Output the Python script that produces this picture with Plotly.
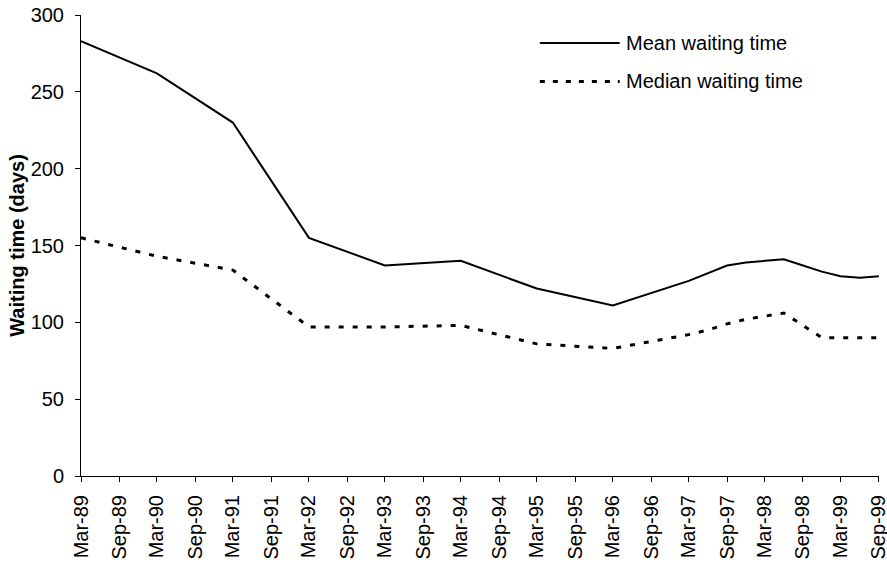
import pandas as pd
import plotly.graph_objects as go

# waiting time series (days)
mean_dates = ["Mar-89", "Mar-90", "Mar-91", "Mar-92", "Mar-93", "Mar-94", "Mar-95",
              "Mar-96", "Mar-97", "Jun-97", "Sep-97", "Dec-97", "Mar-98", "Jun-98",
              "Sep-98", "Dec-98", "Mar-99", "Jun-99", "Sep-99"]
mean_wait = [283, 262, 230, 155, 137, 140, 122, 111, 127, 132, 137, 139, 140, 141,
             137, 133, 130, 129, 130]

median_dates = mean_dates
median_wait = [155, 143, 134, 97, 97, 98, 86, 83, 92, 95, 99, 102, 104, 106,
               98, 90, 90, 90, 90]

series_names = ["Mean waiting time", "Median waiting time"]
y_title = "Waiting time (days)"

FONT = "Liberation Sans, Arial, sans-serif"
FS = 20

def to_dates(labels):
    return pd.to_datetime(labels, format="%b-%y")

fig = go.Figure()
fig.add_trace(go.Scatter(x=to_dates(mean_dates), y=mean_wait, mode="lines",
                         name=series_names[0], line=dict(color="black", width=2)))
fig.add_trace(go.Scatter(x=to_dates(median_dates), y=median_wait, mode="lines",
                         name=series_names[1],
                         line=dict(color="black", width=3, dash="5px,9px")))

# hand-drawn legend so the sample lines are as long as in the original
leg_y = [0.939, 0.856]
leg_dash = ["solid", "5px,8px"]
leg_w = [2, 3]
for i, nm in enumerate(series_names):
    fig.add_shape(type="line", xref="paper", yref="paper",
                  x0=0.575, x1=0.675, y0=leg_y[i], y1=leg_y[i],
                  line=dict(color="black", width=leg_w[i], dash=leg_dash[i]))
    fig.add_annotation(xref="paper", yref="paper", x=0.681, y=leg_y[i],
                       text=nm, showarrow=False, xanchor="left", yanchor="middle",
                       font=dict(family=FONT, size=FS, color="black"))

start = to_dates(["Mar-89"])[0]
end = to_dates(["Sep-99"])[0]

fig.update_layout(
    width=887, height=564,
    margin=dict(l=81, r=8, t=15, b=88),
    plot_bgcolor="white", paper_bgcolor="white",
    showlegend=False,
    font=dict(family=FONT, size=FS, color="black"),
)
fig.update_xaxes(
    type="date", automargin=False, ticklabeloverflow="allow",
    range=[start, end + pd.Timedelta(hours=12)],
    tick0=start, dtick="M6", tickformat="%b-%y",
    tickangle=-90, ticks="outside", ticklen=5, tickcolor="black",
    ticklabelstandoff=5,
    showline=True, linecolor="black", linewidth=1,
    showgrid=False, zeroline=False,
)
fig.update_yaxes(
    range=[0, 300], dtick=50, automargin=False, ticklabeloverflow="allow",
    ticks="outside", ticklen=5, tickcolor="black",
    ticklabelstandoff=7,
    showline=True, linecolor="black", linewidth=1,
    showgrid=False, zeroline=False,
    title=dict(text="<b>" + y_title + "</b>", font=dict(family=FONT, size=FS),
               standoff=0),
)

# drop the default body margin so the figure fills the window exactly
fig.write_html("out.html",
               config={"displayModeBar": False},
               post_script="document.body.style.margin='0';"
                           "document.body.style.overflow='hidden';")
